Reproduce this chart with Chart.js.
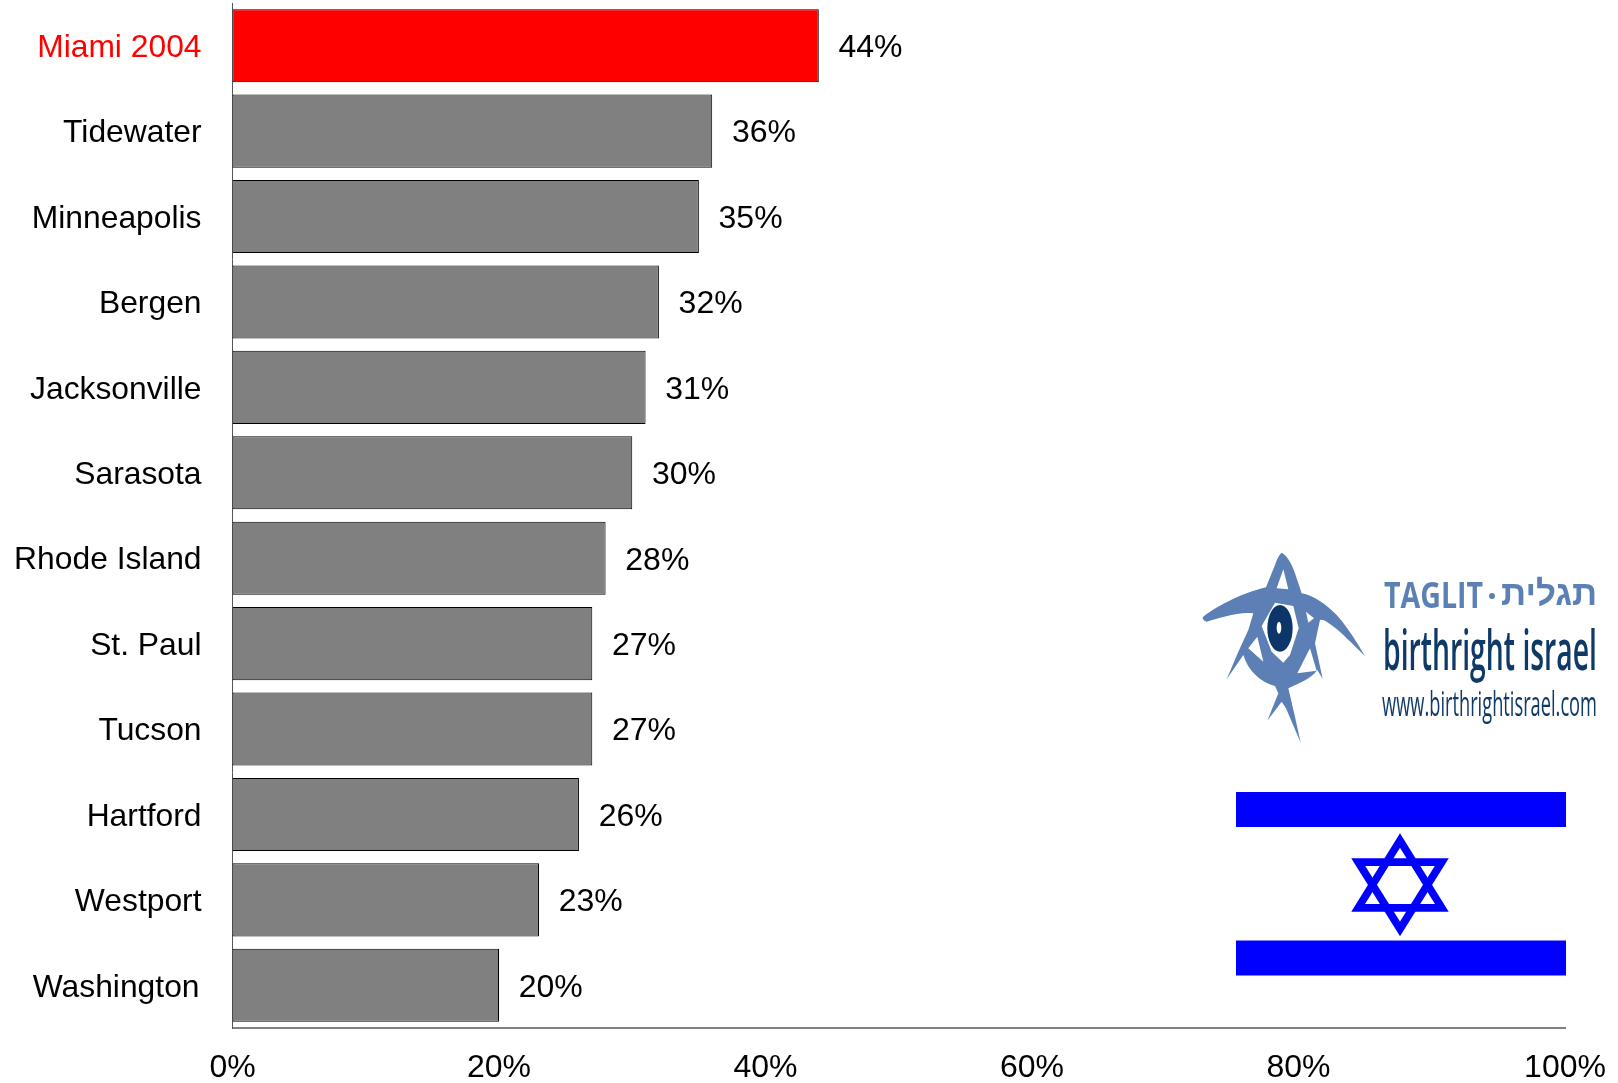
<!DOCTYPE html>
<html><head><meta charset="utf-8">
<script src="https://cdn.jsdelivr.net/npm/chart.js@4"></script>
<style>
html,body{margin:0;padding:0;background:#fff;overflow:hidden}
#wrap{position:relative;width:1618px;height:1083px}
canvas{position:absolute;left:0;top:0}
svg{position:absolute;left:0;top:0;pointer-events:none}
</style></head><body>
<div id="wrap">
<canvas id="c" width="1618" height="1083"></canvas>
<svg width="1618" height="1083" viewBox="0 0 1618 1083" xmlns="http://www.w3.org/2000/svg">
  <defs><filter id="soft" x="-5%" y="-5%" width="110%" height="110%"><feGaussianBlur stdDeviation="1.6"/></filter></defs>
  <!-- Israeli flag -->
  <rect x="1236" y="792" width="330" height="35" fill="#0000ff"/>
  <rect x="1236" y="940.5" width="330" height="35" fill="#0000ff"/>
  <polygon points="1400,840.5 1358.2,907.8 1441.8,907.8" fill="none" stroke="#0000ff" stroke-width="7.7" stroke-miterlimit="6"/>
  <polygon points="1400,928.9 1358.2,862.1 1441.8,862.1" fill="none" stroke="#0000ff" stroke-width="7.7" stroke-miterlimit="6"/>
  <!-- Taglit logo mark: blue silhouette with white openings, in zoom-space units -->
  <g transform="translate(1180 530) scale(0.3333)" filter="url(#soft)">
    <path fill="#5b80b5" d="M305 68 C320 75 335 100 345 130 L365 190 C400 195 440 225 470 255 C510 300 535 345 555 378 C520 345 480 300 440 275 Q430 268 420 270 L405 340 L428 446 L412 420 C395 445 360 458 325 475 L345 560 L362 638 L318 535 L305 515 L262 572 L295 490 L285 468 C245 458 205 425 190 375 L140 448 L175 365 L205 300 L220 250 C170 245 120 265 80 275 Q68 272 68 262 C100 235 180 190 258 172 L285 105 Q295 75 305 68 Z"/>
    <g fill="#ffffff">
      <polygon points="310,118 290,175 325,178"/>
      <polygon points="285,218 340,228 356,295 330,375 310,398 275,365 245,288"/>
      <polygon points="205,355 232,320 250,395"/>
      <polygon points="378,245 402,265 385,278"/>
      <polygon points="390,355 410,422 352,430"/>
    </g>
    <ellipse cx="300" cy="295" rx="38" ry="70" fill="#0b3569"/>
    <ellipse cx="297" cy="293" rx="7" ry="18" fill="#ffffff"/>
  </g>
  <!-- Taglit logo wordmark -->
  <text x="1384" y="608" font-family="'Open Sans','Liberation Sans',sans-serif" font-weight="700" font-size="36" fill="#5b80b5" textLength="99" lengthAdjust="spacingAndGlyphs">TAGLIT</text>
  <circle cx="1492" cy="596" r="3" fill="#5b80b5"/>
  <text x="1501" y="605" font-family="'Liberation Sans','DejaVu Sans',sans-serif" font-weight="700" font-size="35" fill="#5b80b5">תגלית</text>
  <text x="1383" y="670" font-family="'Open Sans','Liberation Sans',sans-serif" font-weight="600" font-size="56" fill="#0f3a68" textLength="214" lengthAdjust="spacingAndGlyphs">birthright israel</text>
  <text x="1382" y="716" font-family="'Open Sans','Liberation Sans',sans-serif" font-weight="500" font-size="35" fill="#0f3a68" textLength="215" lengthAdjust="spacingAndGlyphs">www.birthrightisrael.com</text>
</svg>
</div>
<script>
const categories = ["Miami 2004","Tidewater","Minneapolis","Bergen","Jacksonville","Sarasota","Rhode Island","St. Paul","Tucson","Hartford","Westport","Washington"];
const values = [44,36,35,32,31,30,28,27,27,26,23,20];
const tickValues = [0,20,40,60,80,100];
const highlightColor = "#ff0000";
const barColor = "#808080";
const fontFamily = "'Liberation Sans', Arial, sans-serif";
const fontSize = 32;

const barLabels = {
  id: "barLabels",
  beforeDraw(chart) {
    // nudge the category labels down to sit where the reference has them
    chart.scales.y.getLabelItems().forEach((item, i) => {
      if (item.__moved) return;
      item.__moved = true;
      item.options.translation[1] += 2.5;
      if (i === categories.length - 1) item.options.translation[0] -= 2;
    });
  },
  afterDatasetsDraw(chart) {
    const ctx = chart.ctx;
    const meta = chart.getDatasetMeta(0);
    ctx.save();
    ctx.font = fontSize + "px " + fontFamily;
    ctx.fillStyle = "#000";
    ctx.textAlign = "left";
    ctx.textBaseline = "middle";
    meta.data.forEach((el, i) => {
      ctx.fillText(values[i] + "%", el.x + 19.7, el.y + 2.5);
    });
    ctx.restore();
  }
};

function zeroPadding(s) {
  s.paddingTop = 0; s.paddingBottom = 0; s.paddingLeft = 0; s.paddingRight = 0;
}

new Chart(document.getElementById("c"), {
  type: "bar",
  data: {
    labels: categories,
    datasets: [{
      data: values,
      backgroundColor: categories.map((_, i) => i === 0 ? highlightColor : barColor),
      borderColor: "#000000",
      borderWidth: 1,
      borderSkipped: false,
      categoryPercentage: 1,
      barPercentage: 0.855
    }]
  },
  options: {
    indexAxis: "y",
    responsive: false,
    animation: false,
    layout: { padding: { top: 3, right: 53, left: 0, bottom: 0 } },
    plugins: { legend: { display: false }, tooltip: { enabled: false } },
    scales: {
      x: {
        min: 0, max: 100,
        afterBuildTicks(s) { s.ticks = tickValues.map(v => ({ value: v })); },
        grid: { display: false, drawTicks: false },
        border: { display: true, color: "#808080", width: 2 },
        afterFit(s) { s.height = 55; zeroPadding(s); },
        ticks: {
          padding: 21,
          maxRotation: 0,
          autoSkip: false,
          color: "#000",
          font: { family: fontFamily, size: fontSize },
          callback: v => v + "%"
        }
      },
      y: {
        grid: { display: false, drawTicks: false },
        border: { display: true, color: "#555555", width: 1 },
        afterFit(s) { s.width = 232.5; zeroPadding(s); },
        ticks: {
          padding: 31,
          autoSkip: false,
          color: ctx => ctx.index === 0 ? highlightColor : "#000",
          font: { family: fontFamily, size: 31.8 }
        }
      }
    }
  },
  plugins: [barLabels]
});
</script>
</body></html>
